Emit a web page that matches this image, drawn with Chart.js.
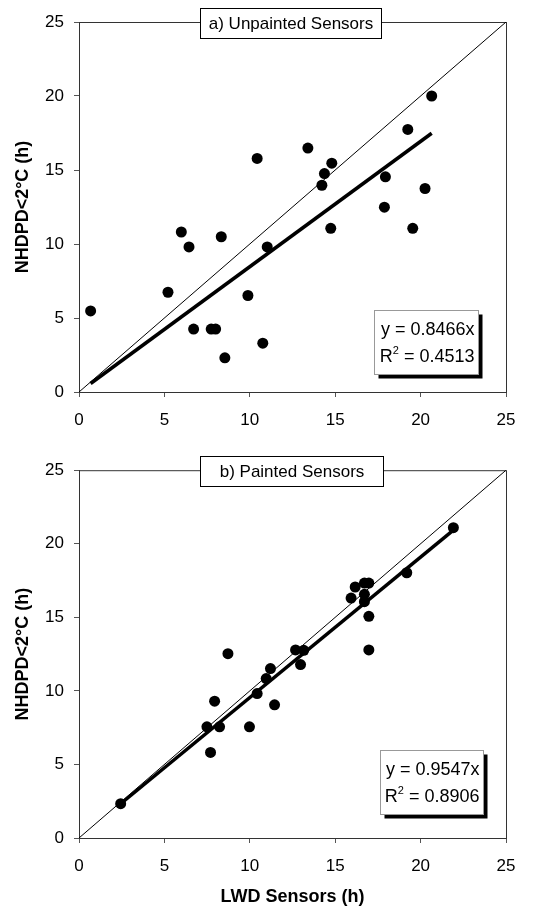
<!DOCTYPE html>
<html>
<head>
<meta charset="utf-8">
<script src="https://cdn.jsdelivr.net/npm/chart.js@4.4.1/dist/chart.umd.min.js"></script>
<style>
  body { margin: 0; background: #fff; }
  canvas { position: absolute; left: 0; }
  #chartA { top: 0; }
  #chartB { top: 450px; }
</style>
</head>
<body>
<canvas id="chartA" width="539" height="450"></canvas>
<canvas id="chartB" width="539" height="458"></canvas>
<script>
// a) unpainted sensors - LWD hours (x) vs NHDPD<2°C hours (y)
const unpaintedX = [0.68, 5.21, 5.99, 6.44, 6.71, 7.74, 8.0, 8.33, 8.54, 9.89, 10.43, 10.76,
                    11.02, 13.4, 14.22, 14.37, 14.74, 14.8, 17.88, 17.94, 19.25, 19.54, 20.26, 20.65];
const unpaintedY = [5.48, 6.74, 10.81, 9.8, 4.25, 4.25, 4.25, 10.49, 2.31, 6.52, 15.78, 3.3,
                    9.8, 16.48, 13.97, 14.76, 11.06, 15.46, 12.49, 14.54, 17.74, 11.06, 13.75, 20.0];
const unpaintedSlope = 0.8466;
const unpaintedR2 = '0.4513';

// b) painted sensors
const paintedX = [2.44, 7.49, 7.7, 7.94, 8.23, 8.72, 9.98, 10.43, 10.96, 11.21, 11.45, 12.68,
                  12.97, 13.16, 15.93, 16.17, 16.71, 16.71, 16.71, 16.97, 16.97, 16.97, 19.19, 21.92];
const paintedY = [2.33, 7.56, 5.82, 9.3, 7.56, 12.53, 7.56, 9.82, 10.84, 11.52, 9.05, 12.78,
                  11.79, 12.76, 16.31, 17.06, 17.33, 16.56, 16.06, 17.33, 15.07, 12.78, 18.03, 21.09];
const paintedSlope = 0.9547;
const paintedR2 = '0.8906';

const axisTicks = [0, 5, 10, 15, 20, 25];

Chart.defaults.font.family = 'Arial, "Liberation Sans", sans-serif';
Chart.defaults.color = '#000';

// frame round the plot, the panel title box and the equation box
const boxes = {
  id: 'boxes',
  beforeDatasetsDraw(chart) {
    const { ctx, chartArea: a } = chart;
    ctx.save();
    ctx.strokeStyle = '#333';
    ctx.lineWidth = 1;
    ctx.strokeRect(a.left + 0.5, a.top + 0.5, a.right - a.left, a.bottom - a.top);
    ctx.restore();
  },
  afterDatasetsDraw(chart, args, o) {
    const { ctx, chartArea: a, scales: { x, y } } = chart;
    ctx.save();
    ctx.font = '17px Arial, "Liberation Sans", sans-serif';
    ctx.fillStyle = '#000';

    // title box straddling the top border
    let l = Math.round(x.getPixelForValue(o.titleFrom)) + 0.5;
    let r = Math.round(x.getPixelForValue(o.titleTo)) + 0.5;
    let t = Math.round(a.top - 14) + 0.5;
    ctx.fillStyle = '#fff';
    ctx.fillRect(l, t, r - l, 30);
    ctx.strokeStyle = '#000';
    ctx.lineWidth = 1;
    ctx.strokeRect(l, t, r - l, 30);
    ctx.fillStyle = '#000';
    ctx.textAlign = 'center';
    ctx.textBaseline = 'middle';
    ctx.fillText(o.title, (l + r) / 2, t + 16);

    // equation box with drop shadow
    l = Math.round(x.getPixelForValue(o.eq[0])) + 0.5;
    r = Math.round(x.getPixelForValue(o.eq[1])) + 0.5;
    t = Math.round(y.getPixelForValue(o.eq[2])) + 0.5;
    const b = Math.round(y.getPixelForValue(o.eq[3])) + 0.5;
    ctx.fillStyle = '#000';
    ctx.fillRect(l + 4, t + 4, r - l, b - t);
    ctx.fillStyle = '#fff';
    ctx.fillRect(l, t, r - l, b - t);
    ctx.strokeStyle = '#999';
    ctx.strokeRect(l, t, r - l, b - t);
    ctx.fillStyle = '#000';
    ctx.textAlign = 'right';
    ctx.font = '18px Arial, "Liberation Sans", sans-serif';
    const tx = r - 4;
    ctx.fillText('y = ' + o.slope.toFixed(4) + 'x', tx, t + (b - t) * 0.3);
    const rest = ' = ' + o.r2;
    const ly = t + (b - t) * 0.72;
    ctx.fillText(rest, tx, ly);
    const w = ctx.measureText(rest).width;
    ctx.font = '11px Arial, "Liberation Sans", sans-serif';
    ctx.fillText('2', tx - w, ly - 6);
    const w2 = ctx.measureText('2').width;
    ctx.font = '18px Arial, "Liberation Sans", sans-serif';
    ctx.fillText('R', tx - w - w2, ly);
    ctx.restore();
  }
};

function makeChart(id, xs, ys, slope, r2, o) {
  const canvas = document.getElementById(id);
  const W = canvas.width, H = canvas.height;
  const pts = xs.map((v, i) => ({ x: v, y: ys[i] }));
  const lo = Math.min(...xs), hi = Math.max(...xs);
  const axis = (extra) => Object.assign({
    type: 'linear',
    min: 0,
    max: 25,
    afterBuildTicks: s => { s.ticks = axisTicks.map(v => ({ value: v })); },
    ticks: { font: { size: 17 }, color: '#000', padding: 10 },
    grid: { display: true, drawOnChartArea: false, drawTicks: true, tickLength: 5, color: '#555' },
    border: { display: true, color: '#333', width: 1 }
  }, extra);

  return new Chart(canvas, {
    type: 'scatter',
    data: {
      datasets: [
        { data: pts, pointRadius: 5.5, pointHoverRadius: 5.5, backgroundColor: '#000', borderWidth: 0 },
        { type: 'line', data: [{ x: lo, y: slope * lo }, { x: hi, y: slope * hi }],
          borderColor: '#000', borderWidth: 3.5, pointRadius: 0, fill: false },
        { type: 'line', data: [{ x: 0, y: 0 }, { x: 25, y: 25 }],
          borderColor: '#000', borderWidth: 1, pointRadius: 0, fill: false }
      ]
    },
    options: {
      responsive: false,
      animation: false,
      layout: { padding: { top: o.top, right: W - o.right, left: 0, bottom: 0 } },
      plugins: {
        legend: { display: false },
        tooltip: { enabled: false },
        boxes: { title: o.title, titleFrom: o.titleFrom, titleTo: o.titleTo, slope: slope, r2: r2, eq: o.eq }
      },
      scales: {
        x: axis({
          position: 'bottom',
          afterFit: s => { s.height = H - o.bottom; },
          ticks: { font: { size: 17 }, color: '#000', padding: 13 },
          title: { display: !!o.xTitle, text: o.xTitle || '', font: { size: 18, weight: 'bold' }, padding: { top: 0, bottom: 0 } }
        }),
        y: axis({
          position: 'left',
          afterFit: s => { s.width = o.left; },
          title: { display: true, text: 'NHDPD<2°C (h)', font: { size: 18, weight: 'bold' }, padding: { top: 12, bottom: 0 } }
        })
      }
    },
    plugins: [boxes]
  });
}

makeChart('chartA', unpaintedX, unpaintedY, unpaintedSlope, unpaintedR2, {
  left: 79, right: 506, top: 22, bottom: 392,
  title: 'a) Unpainted Sensors', titleFrom: 7.06, titleTo: 17.7,
  eq: [17.26, 23.34, 5.55, 1.24]
});

makeChart('chartB', paintedX, paintedY, paintedSlope, paintedR2, {
  left: 79, right: 506, top: 19, bottom: 388,
  title: 'b) Painted Sensors', titleFrom: 7.06, titleTo: 17.78,
  eq: [17.63, 23.67, 5.98, 1.65],
  xTitle: 'LWD Sensors (h)'
});
</script>
</body>
</html>
